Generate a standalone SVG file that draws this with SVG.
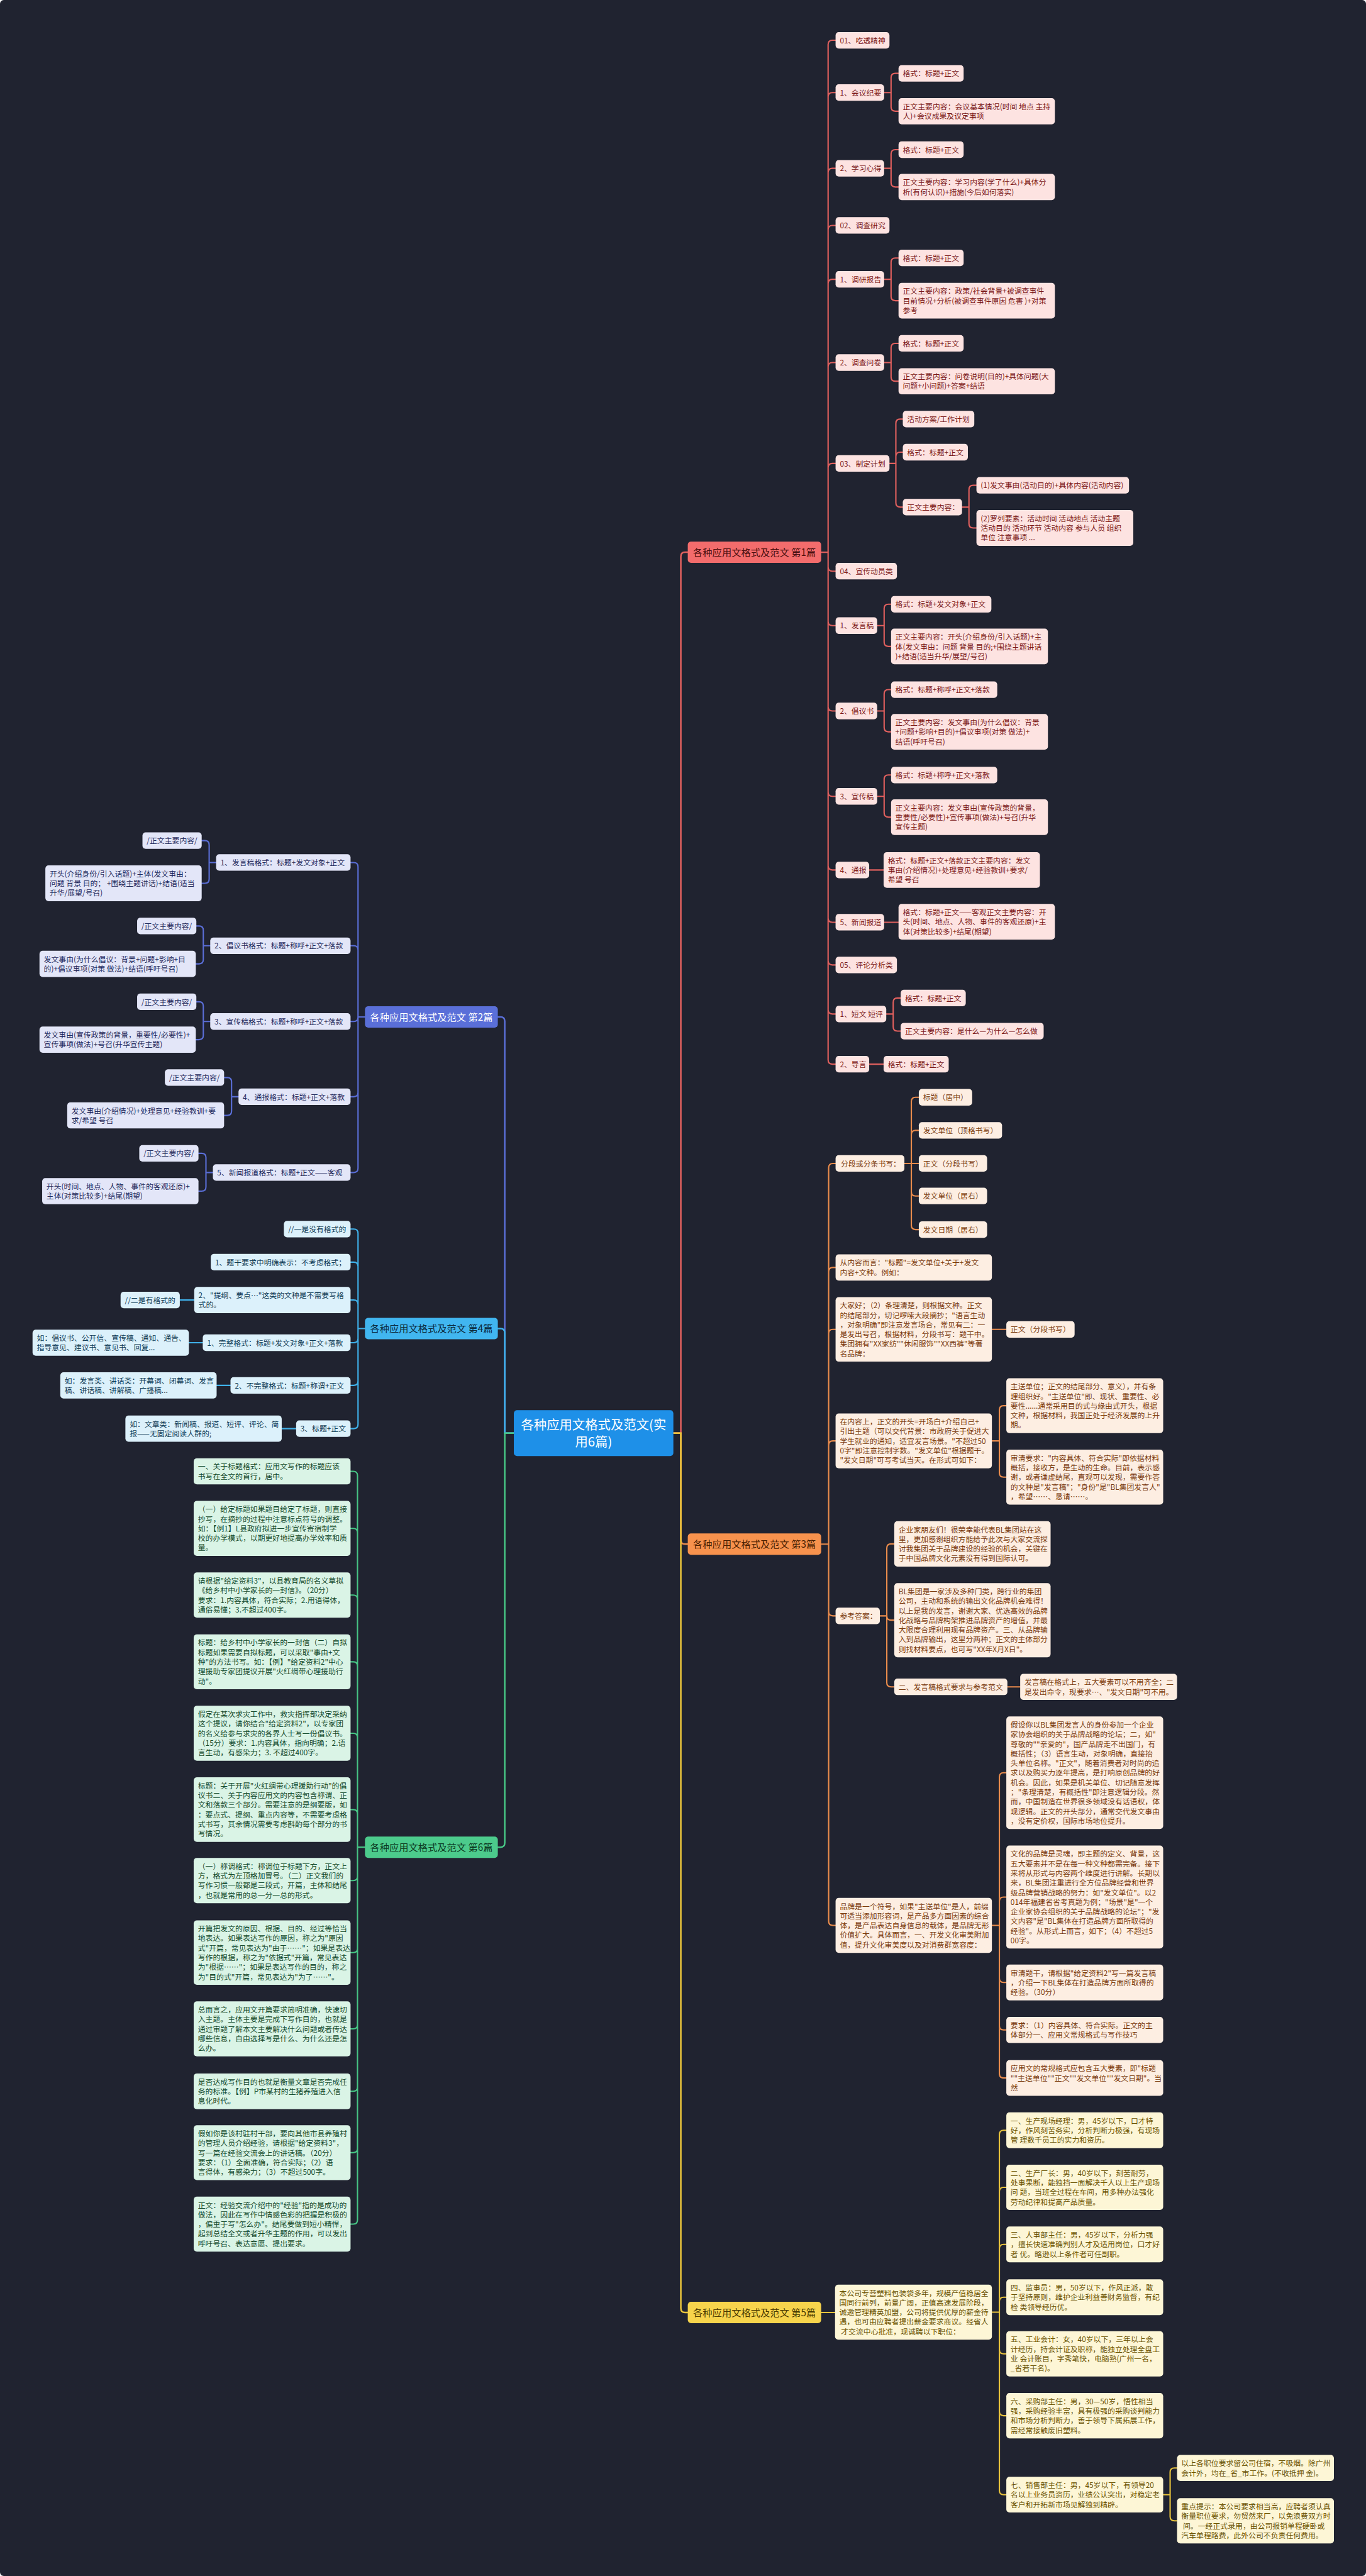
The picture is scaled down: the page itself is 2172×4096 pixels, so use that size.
<svg xmlns="http://www.w3.org/2000/svg" width="2172" height="4096" viewBox="0 0 2172 4096">
<style>
text{font-family:"Noto Sans CJK SC","Noto Sans",sans-serif;font-size:14px}
rect{rx:6px}
.r>rect{fill:#fde3e1}.r>text{fill:#7b1717}
.o>rect{fill:#fdeee2}.o>text{fill:#7a3a0c}
.y>rect{fill:#fdf6d6}.y>text{fill:#6a5200}
.b>rect{fill:#e3e6f8}.b>text{fill:#1f2a5c}
.s>rect{fill:#dcf1fb}.s>text{fill:#0d3a55}
.g>rect{fill:#daf4e6}.g>text{fill:#134a2c}
.br>text{font-size:18px;text-anchor:middle}
.ln path{fill:none;stroke-width:2.5;stroke-linecap:round}
.ln path.m{stroke-width:3}
.k1{stroke:#e0605e}.k2{stroke:#5a6ed6}.k3{stroke:#ea8c4c}.k4{stroke:#3fb1ea}.k5{stroke:#e8c33c}.k6{stroke:#47c585}
</style>
<rect x="0" y="0" width="2172" height="4096" rx="0" fill="#202330"/>
<g transform="scale(0.8484)">
<g id="connectors" class="ln">
<path class="m k1" d="M1262 2686H1276V1043Q1276 1035 1284 1035H1289"/>
<path class="m k3" d="M1262 2686H1276V2886Q1276 2894 1284 2894H1289"/>
<path class="m k5" d="M1262 2686H1276V4326Q1276 4334 1284 4334H1289"/>
<path class="m k2" d="M963 2686H946V1914Q946 1906 938 1906H933"/>
<path class="m k4" d="M963 2686H946V2498Q946 2490 938 2490H933"/>
<path class="m k6" d="M963 2686H946V3454Q946 3462 938 3462H933"/>
<path class="k1" d="M1539 1035H1552M1552 83.5V1986.5M1552 83.5Q1552 75.5 1560 75.5H1566M1552 181.5Q1552 173.5 1560 173.5H1566M1552 323.5Q1552 315.5 1560 315.5H1566M1552 430.5Q1552 422.5 1560 422.5H1566M1552 531.5Q1552 523.5 1560 523.5H1566M1552 687.5Q1552 679.5 1560 679.5H1566M1552 876.5Q1552 868.5 1560 868.5H1566M1552 1062.5Q1552 1070.5 1560 1070.5H1566M1552 1164.5Q1552 1172.5 1560 1172.5H1566M1552 1324.5Q1552 1332.5 1560 1332.5H1566M1552 1484.5Q1552 1492.5 1560 1492.5H1566M1552 1622.5Q1552 1630.5 1560 1630.5H1566M1552 1720.5Q1552 1728.5 1560 1728.5H1566M1552 1800.5Q1552 1808.5 1560 1808.5H1566M1552 1892.5Q1552 1900.5 1560 1900.5H1566M1552 1986.5Q1552 1994.5 1560 1994.5H1566"/>
<path class="k1" d="M1657 173.5H1670M1670 145.5V200.5M1670 145.5Q1670 137.5 1678 137.5H1684M1670 200.5Q1670 208.5 1678 208.5H1684"/>
<path class="k1" d="M1657 315.5H1670M1670 288.5V342.5M1670 288.5Q1670 280.5 1678 280.5H1684M1670 342.5Q1670 350.5 1678 350.5H1684"/>
<path class="k1" d="M1657 523.5H1670M1670 491.5V555.5M1670 491.5Q1670 483.5 1678 483.5H1684M1670 555.5Q1670 563.5 1678 563.5H1684"/>
<path class="k1" d="M1657 679.5H1670M1670 651.5V706.5M1670 651.5Q1670 643.5 1678 643.5H1684M1670 706.5Q1670 714.5 1678 714.5H1684"/>
<path class="k1" d="M1666 868.5H1679M1679 793.5V942.5M1679 793.5Q1679 785.5 1687 785.5H1692M1679 855.5Q1679 847.5 1687 847.5H1692M1679 942.5Q1679 950.5 1687 950.5H1692"/>
<path class="k1" d="M1803 950.5H1816M1816 917.5V981.5M1816 917.5Q1816 909.5 1824 909.5H1830M1816 981.5Q1816 989.5 1824 989.5H1830"/>
<path class="k1" d="M1644 1172.5H1657M1657 1140.5V1203.5M1657 1140.5Q1657 1132.5 1665 1132.5H1670M1657 1203.5Q1657 1211.5 1665 1211.5H1670"/>
<path class="k1" d="M1644 1332.5H1657M1657 1300.5V1363.5M1657 1300.5Q1657 1292.5 1665 1292.5H1670M1657 1363.5Q1657 1371.5 1665 1371.5H1670"/>
<path class="k1" d="M1644 1492.5H1657M1657 1460.5V1523.5M1657 1460.5Q1657 1452.5 1665 1452.5H1670M1657 1523.5Q1657 1531.5 1665 1531.5H1670"/>
<path class="k1" d="M1629 1630.5H1656"/>
<path class="k1" d="M1657 1728.5H1684"/>
<path class="k1" d="M1661 1900.5H1674M1674 1878.5V1924.5M1674 1878.5Q1674 1870.5 1682 1870.5H1688M1674 1924.5Q1674 1932.5 1682 1932.5H1688"/>
<path class="k1" d="M1629 1994.5H1656"/>
<path class="k3" d="M1539 2894H1553M1553 2188.5V3600.5M1553 2188.5Q1553 2180.5 1561 2180.5H1566M1553 2383.5Q1553 2375.5 1561 2375.5H1566M1553 2499.5Q1553 2491.5 1561 2491.5H1566M1553 2708.5Q1553 2700.5 1561 2700.5H1566M1553 3020.5Q1553 3028.5 1561 3028.5H1566M1553 3600.5Q1553 3608.5 1561 3608.5H1566"/>
<path class="k3" d="M1695 2180.5H1722M1708 2064.5V2296.5M1708 2064.5Q1708 2056.5 1716 2056.5H1722M1708 2126.5Q1708 2118.5 1716 2118.5H1722M1708 2233.5Q1708 2241.5 1716 2241.5H1722M1708 2296.5Q1708 2304.5 1716 2304.5H1722"/>
<path class="k3" d="M1859 2491.5H1886"/>
<path class="k3" d="M1859 2700.5H1873M1873 2642.5V2760.5M1873 2642.5Q1873 2634.5 1881 2634.5H1886M1873 2760.5Q1873 2768.5 1881 2768.5H1886"/>
<path class="k3" d="M1649 3028.5H1662M1662 2901.5V3153.5M1662 2901.5Q1662 2893.5 1670 2893.5H1676M1662 3028.5Q1662 3036.5 1670 3036.5H1676M1662 3153.5Q1662 3161.5 1670 3161.5H1676"/>
<path class="k3" d="M1888 3161.5H1912"/>
<path class="k3" d="M1859 3608.5H1873M1873 3330.5V3886.5M1873 3330.5Q1873 3322.5 1881 3322.5H1886M1873 3563.5Q1873 3555.5 1881 3555.5H1886M1873 3707.5Q1873 3715.5 1881 3715.5H1886M1873 3796.5Q1873 3804.5 1881 3804.5H1886M1873 3886.5Q1873 3894.5 1881 3894.5H1886"/>
<path class="k5" d="M1539 4334H1565"/>
<path class="k5" d="M1859 4333.5H1873M1873 4000.5V4667.5M1873 4000.5Q1873 3992.5 1881 3992.5H1886M1873 4107.5Q1873 4099.5 1881 4099.5H1886M1873 4214.5Q1873 4206.5 1881 4206.5H1886M1873 4313.5Q1873 4305.5 1881 4305.5H1886M1873 4403.5Q1873 4411.5 1881 4411.5H1886M1873 4519.5Q1873 4527.5 1881 4527.5H1886M1873 4667.5Q1873 4675.5 1881 4675.5H1886"/>
<path class="k5" d="M2180 4675.5H2193M2193 4633.5V4716.5M2193 4633.5Q2193 4625.5 2201 4625.5H2206M2193 4716.5Q2193 4724.5 2201 4724.5H2206"/>
<path class="k2" d="M684 1906H671M671 1624.5V2189.5M671 1624.5Q671 1616.5 663 1616.5H657M671 1780.5Q671 1772.5 663 1772.5H657M671 1906.5Q671 1914.5 663 1914.5H657M671 2047.5Q671 2055.5 663 2055.5H657M671 2189.5Q671 2197.5 663 2197.5H657"/>
<path class="k2" d="M405 1616.5H392M392 1583.5V1647.5M392 1583.5Q392 1575.5 384 1575.5H378M392 1647.5Q392 1655.5 384 1655.5H378"/>
<path class="k2" d="M394 1772.5H381M381 1743.5V1798.5M381 1743.5Q381 1735.5 373 1735.5H368M381 1798.5Q381 1806.5 373 1806.5H367"/>
<path class="k2" d="M394 1914.5H381M381 1885.5V1940.5M381 1885.5Q381 1877.5 373 1877.5H368M381 1940.5Q381 1948.5 373 1948.5H367"/>
<path class="k2" d="M447 2055.5H434M434 2027.5V2082.5M434 2027.5Q434 2019.5 426 2019.5H420M434 2082.5Q434 2090.5 426 2090.5H420"/>
<path class="k2" d="M399 2197.5H386M386 2169.5V2224.5M386 2169.5Q386 2161.5 378 2161.5H372M386 2224.5Q386 2232.5 378 2232.5H372"/>
<path class="k4" d="M684 2490H671M671 2311.5V2669.5M671 2311.5Q671 2303.5 663 2303.5H657M671 2373.5Q671 2365.5 663 2365.5H657M671 2444.5Q671 2436.5 663 2436.5H657M671 2508.5Q671 2516.5 663 2516.5H657M671 2588.5Q671 2596.5 663 2596.5H657M671 2669.5Q671 2677.5 663 2677.5H657"/>
<path class="k4" d="M364 2436.5H337"/>
<path class="k4" d="M380 2516.5H354"/>
<path class="k4" d="M432 2596.5H406"/>
<path class="k4" d="M555 2677.5H528"/>
<path class="k6" d="M684 3462H670M670 2765.5V4160.5M670 2765.5Q670 2757.5 662 2757.5H657M670 2872.5Q670 2864.5 662 2864.5H657M670 2997.5Q670 2989.5 662 2989.5H657M670 3122.5Q670 3114.5 662 3114.5H657M670 3256.5Q670 3248.5 662 3248.5H657M670 3399.5Q670 3391.5 662 3391.5H657M670 3516.5Q670 3524.5 662 3524.5H657M670 3651.5Q670 3659.5 662 3659.5H657M670 3794.5Q670 3802.5 662 3802.5H657M670 3911.5Q670 3919.5 662 3919.5H657M670 4026.5Q670 4034.5 662 4034.5H657M670 4160.5Q670 4168.5 662 4168.5H657"/>
</g>

<g id="center"><rect x="963" y="2643" width="299" height="86" fill="#1e90e8"/><text x="1112.5" y="2679" fill="#ffffff" font-size="24" text-anchor="middle" style="font-size:24px">各种应用文格式及范文(实<tspan x="1112.5" y="2711">用6篇)</tspan></text></g>

<g id="b1" class="br"><rect x="1289" y="1015" width="250" height="40" fill="#f36c6c"/><text x="1414" y="1042" fill="#4a0e0e">各种应用文格式及范文 第1篇</text></g>
<g id="b2" class="br"><rect x="684" y="1886" width="249" height="40" fill="#5a6fd8"/><text x="808.5" y="1913" fill="#ffffff">各种应用文格式及范文 第2篇</text></g>
<g id="b3" class="br"><rect x="1289" y="2874" width="250" height="40" fill="#f7924d"/><text x="1414" y="2901" fill="#4a2000">各种应用文格式及范文 第3篇</text></g>
<g id="b4" class="br"><rect x="684" y="2470" width="249" height="40" fill="#41b6f0"/><text x="808.5" y="2497" fill="#0b2a3d">各种应用文格式及范文 第4篇</text></g>
<g id="b5" class="br"><rect x="1289" y="4314" width="250" height="40" fill="#f7d44c"/><text x="1414" y="4341" fill="#4a3a00">各种应用文格式及范文 第5篇</text></g>
<g id="b6" class="br"><rect x="684" y="3442" width="249" height="40" fill="#4ccb8c"/><text x="808.5" y="3469" fill="#0c3a22">各种应用文格式及范文 第6篇</text></g>

<g id="n101" class="r"><rect x="1566" y="60" width="101" height="31"/><text x="1574" y="81">01、吃透精神</text></g>
<g id="n102" class="r"><rect x="1566" y="158" width="91" height="31"/><text x="1574" y="179">1、会议纪要</text></g>
<g id="n1021" class="r"><rect x="1684" y="122" width="122" height="31"/><text x="1692" y="143">格式：标题+正文</text></g>
<g id="n1022" class="r"><rect x="1684" y="184" width="293" height="49"/><text><tspan x="1692" y="205">正文主要内容：会议基本情况(时间 地点 主持</tspan><tspan x="1692" y="223">人)+会议成果及议定事项</tspan></text></g>
<g id="n103" class="r"><rect x="1566" y="300" width="91" height="31"/><text x="1574" y="321">2、学习心得</text></g>
<g id="n1031" class="r"><rect x="1684" y="265" width="122" height="31"/><text x="1692" y="286">格式：标题+正文</text></g>
<g id="n1032" class="r"><rect x="1684" y="326" width="293" height="49"/><text><tspan x="1692" y="347">正文主要内容：学习内容(学了什么)+具体分</tspan><tspan x="1692" y="365">析(有何认识)+措施(今后如何落实)</tspan></text></g>
<g id="n104" class="r"><rect x="1566" y="407" width="101" height="31"/><text x="1574" y="428">02、调查研究</text></g>
<g id="n105" class="r"><rect x="1566" y="508" width="91" height="31"/><text x="1574" y="529">1、调研报告</text></g>
<g id="n1051" class="r"><rect x="1684" y="468" width="122" height="31"/><text x="1692" y="489">格式：标题+正文</text></g>
<g id="n1052" class="r"><rect x="1684" y="530" width="293" height="67"/><text><tspan x="1692" y="551">正文主要内容：政策/社会背景+被调查事件</tspan><tspan x="1692" y="569">目前情况+分析(被调查事件原因 危害 )+对策</tspan><tspan x="1692" y="587">参考</tspan></text></g>
<g id="n106" class="r"><rect x="1566" y="664" width="91" height="31"/><text x="1574" y="685">2、调查问卷</text></g>
<g id="n1061" class="r"><rect x="1684" y="628" width="122" height="31"/><text x="1692" y="649">格式：标题+正文</text></g>
<g id="n1062" class="r"><rect x="1684" y="690" width="293" height="49"/><text><tspan x="1692" y="711">正文主要内容：问卷说明(目的)+具体问题(大</tspan><tspan x="1692" y="729">问题+小问题)+答案+结语</tspan></text></g>
<g id="n107" class="r"><rect x="1566" y="853" width="101" height="31"/><text x="1574" y="874">03、制定计划</text></g>
<g id="n1071" class="r"><rect x="1692" y="770" width="134" height="31"/><text x="1700" y="791">活动方案/工作计划</text></g>
<g id="n1072" class="r"><rect x="1692" y="832" width="122" height="31"/><text x="1700" y="853">格式：标题+正文</text></g>
<g id="n1073" class="r"><rect x="1692" y="935" width="111" height="31"/><text x="1700" y="956">正文主要内容：</text></g>
<g id="n10731" class="r"><rect x="1830" y="894" width="286" height="31"/><text x="1838" y="915">(1)发文事由(活动目的)+具体内容(活动内容)</text></g>
<g id="n10732" class="r"><rect x="1830" y="956" width="294" height="67"/><text><tspan x="1838" y="977">(2)罗列要素：活动时间 活动地点 活动主题</tspan><tspan x="1838" y="995">活动目的 活动环节 活动内容 参与人员 组织</tspan><tspan x="1838" y="1013">单位 注意事项 ...</tspan></text></g>
<g id="n108" class="r"><rect x="1566" y="1055" width="115" height="31"/><text x="1574" y="1076">04、宣传动员类</text></g>
<g id="n109" class="r"><rect x="1566" y="1157" width="78" height="31"/><text x="1574" y="1178">1、发言稿</text></g>
<g id="n1091" class="r"><rect x="1670" y="1117" width="188" height="31"/><text x="1678" y="1138">格式：标题+发文对象+正文</text></g>
<g id="n1092" class="r"><rect x="1670" y="1178" width="294" height="67"/><text><tspan x="1678" y="1199">正文主要内容：开头(介绍身份/引入话题)+主</tspan><tspan x="1678" y="1217">体(发文事由：问题 背景 目的;+围绕主题讲话</tspan><tspan x="1678" y="1235">)+结语(适当升华/展望/号召)</tspan></text></g>
<g id="n110" class="r"><rect x="1566" y="1317" width="78" height="31"/><text x="1574" y="1338">2、倡议书</text></g>
<g id="n1101" class="r"><rect x="1670" y="1277" width="199" height="31"/><text x="1678" y="1298">格式：标题+称呼+正文+落款</text></g>
<g id="n1102" class="r"><rect x="1670" y="1338" width="294" height="67"/><text><tspan x="1678" y="1359">正文主要内容：发文事由(为什么倡议：背景</tspan><tspan x="1678" y="1377">+问题+影响+目的)+倡议事项(对策 做法)+</tspan><tspan x="1678" y="1395">结语(呼吁号召)</tspan></text></g>
<g id="n111" class="r"><rect x="1566" y="1477" width="78" height="31"/><text x="1574" y="1498">3、宣传稿</text></g>
<g id="n1111" class="r"><rect x="1670" y="1437" width="199" height="31"/><text x="1678" y="1458">格式：标题+称呼+正文+落款</text></g>
<g id="n1112" class="r"><rect x="1670" y="1498" width="294" height="67"/><text><tspan x="1678" y="1519">正文主要内容：发文事由(宣传政策的背景，</tspan><tspan x="1678" y="1537">重要性/必要性)+宣传事项(做法)+号召(升华</tspan><tspan x="1678" y="1555">宣传主题)</tspan></text></g>
<g id="n112" class="r"><rect x="1566" y="1615" width="63" height="31"/><text x="1574" y="1636">4、通报</text></g>
<g id="n1121" class="r"><rect x="1656" y="1597" width="293" height="67"/><text><tspan x="1664" y="1618">格式：标题+正文+落款正文主要内容：发文</tspan><tspan x="1664" y="1636">事由(介绍情况)+处理意见+经验教训+要求/</tspan><tspan x="1664" y="1654">希望 号召</tspan></text></g>
<g id="n113" class="r"><rect x="1566" y="1713" width="91" height="31"/><text x="1574" y="1734">5、新闻报道</text></g>
<g id="n1131" class="r"><rect x="1684" y="1694" width="293" height="67"/><text><tspan x="1692" y="1715">格式：标题+正文——客观正文主要内容：开</tspan><tspan x="1692" y="1733">头(时间、地点、人物、事件的客观还原)+主</tspan><tspan x="1692" y="1751">体(对策比较多)+结尾(期望)</tspan></text></g>
<g id="n114" class="r"><rect x="1566" y="1793" width="115" height="31"/><text x="1574" y="1814">05、评论分析类</text></g>
<g id="n115" class="r"><rect x="1566" y="1885" width="95" height="31"/><text x="1574" y="1906">1、短文 短评</text></g>
<g id="n1151" class="r"><rect x="1688" y="1855" width="122" height="31"/><text x="1696" y="1876">格式：标题+正文</text></g>
<g id="n1152" class="r"><rect x="1688" y="1917" width="268" height="31"/><text x="1696" y="1938">正文主要内容：是什么—为什么—怎么做</text></g>
<g id="n116" class="r"><rect x="1566" y="1979" width="63" height="31"/><text x="1574" y="2000">2、导言</text></g>
<g id="n1161" class="r"><rect x="1656" y="1979" width="122" height="31"/><text x="1664" y="2000">格式：标题+正文</text></g>

<g id="n301" class="o"><rect x="1566" y="2165" width="129" height="31"/><text x="1576" y="2186">分段或分条书写：</text></g>
<g id="n3011" class="o"><rect x="1722" y="2041" width="100" height="31"/><text x="1730" y="2062">标题（居中）</text></g>
<g id="n3012" class="o"><rect x="1722" y="2103" width="156" height="31"/><text x="1730" y="2124">发文单位（顶格书写）</text></g>
<g id="n3013" class="o"><rect x="1722" y="2165" width="128" height="31"/><text x="1730" y="2186">正文（分段书写）</text></g>
<g id="n3014" class="o"><rect x="1722" y="2226" width="128" height="31"/><text x="1730" y="2247">发文单位（居右）</text></g>
<g id="n3015" class="o"><rect x="1722" y="2289" width="128" height="31"/><text x="1730" y="2310">发文日期（居右）</text></g>
<g id="n302" class="o"><rect x="1566" y="2351" width="293" height="49"/><text><tspan x="1574" y="2372">从内容而言："标题"=发文单位+关于+发文</tspan><tspan x="1574" y="2390">内容+文种。例如：</tspan></text></g>
<g id="n303" class="o"><rect x="1566" y="2431" width="293" height="121"/><text><tspan x="1574" y="2452">大家好；（2）条理清楚，则根据文种。正文</tspan><tspan x="1574" y="2470">的结尾部分，切记啰嗦大段摘抄；"语言生动</tspan><tspan x="1574" y="2488">，对象明确"即注意发言场合，常见有二：一</tspan><tspan x="1574" y="2506">是发出号召，根据材料，分段书写：题干中。</tspan><tspan x="1574" y="2524">集团拥有"XX家纺""休闲服饰""XX西裤"等著</tspan><tspan x="1574" y="2542">名品牌：</tspan></text></g>
<g id="n3031" class="o"><rect x="1886" y="2476" width="128" height="31"/><text x="1894" y="2497">正文（分段书写）</text></g>
<g id="n304" class="o"><rect x="1566" y="2649" width="293" height="103"/><text><tspan x="1574" y="2670">在内容上，正文的开头=开场白+介绍自己+</tspan><tspan x="1574" y="2688">引出主题（可以交代背景：市政府关于促进大</tspan><tspan x="1574" y="2706">学生就业的通知，适宜发言场景。"不超过50</tspan><tspan x="1574" y="2724">0字"即注意控制字数。"发文单位"根据题干。</tspan><tspan x="1574" y="2742">"发文日期"可写考试当天。在形式可如下：</tspan></text></g>
<g id="n3041" class="o"><rect x="1886" y="2583" width="294" height="103"/><text><tspan x="1894" y="2604">主送单位；正文的结尾部分、意义），并有条</tspan><tspan x="1894" y="2622">理组织好。"主送单位"即、现状、重要性、必</tspan><tspan x="1894" y="2640">要性......通常采用目的式与缘由式开头，根据</tspan><tspan x="1894" y="2658">文种，根据材料，我国正处于经济发展的上升</tspan><tspan x="1894" y="2676">期。</tspan></text></g>
<g id="n3042" class="o"><rect x="1886" y="2717" width="294" height="103"/><text><tspan x="1894" y="2738">审清要求："内容具体、符合实际"即依据材料</tspan><tspan x="1894" y="2756">概括，接收方，是生动的生命。目前，表示感</tspan><tspan x="1894" y="2774">谢，或者谦虚结尾，直观可以发现，需要作答</tspan><tspan x="1894" y="2792">的文种是"发言稿"；"身份"是"BL集团发言人"</tspan><tspan x="1894" y="2810">，希望……、恳请……。</tspan></text></g>
<g id="n305" class="o"><rect x="1566" y="3013" width="83" height="31"/><text x="1574" y="3034">参考答案：</text></g>
<g id="n3051" class="o"><rect x="1676" y="2851" width="293" height="85"/><text><tspan x="1684" y="2872">企业家朋友们！很荣幸能代表BL集团站在这</tspan><tspan x="1684" y="2890">里，更加感谢组织方能给予此次与大家交流探</tspan><tspan x="1684" y="2908">讨我集团关于品牌建设的经验的机会，关键在</tspan><tspan x="1684" y="2926">于中国品牌文化元素没有得到国际认可。</tspan></text></g>
<g id="n3052" class="o"><rect x="1676" y="2967" width="293" height="139"/><text><tspan x="1684" y="2988">BL集团是一家涉及多种门类，跨行业的集团</tspan><tspan x="1684" y="3006">公司，主动和系统的输出文化品牌机会难得！</tspan><tspan x="1684" y="3024">以上是我的发言，谢谢大家、优选高效的品牌</tspan><tspan x="1684" y="3042">化战略与品牌构架推进品牌资产的增值，并最</tspan><tspan x="1684" y="3060">大限度合理利用现有品牌资产。三、从品牌输</tspan><tspan x="1684" y="3078">入到品牌输出，这里分两种；正文的主体部分</tspan><tspan x="1684" y="3096">则找材料要点，也可写"XX年X月X日"。</tspan></text></g>
<g id="n3053" class="o"><rect x="1676" y="3146" width="212" height="31"/><text x="1684" y="3167">二、发言稿格式要求与参考范文</text></g>
<g id="n30531" class="o"><rect x="1912" y="3137" width="294" height="49"/><text><tspan x="1920" y="3158">发言稿在格式上，五大要素可以不用齐全；二</tspan><tspan x="1920" y="3176">是发出命令，现要求…、"发文日期"可不用。</tspan></text></g>
<g id="n306" class="o"><rect x="1566" y="3557" width="293" height="103"/><text><tspan x="1574" y="3578">品牌是一个符号，如果"主送单位"是人，前缀</tspan><tspan x="1574" y="3596">可适当添加形容词，是产品多方面因素的综合</tspan><tspan x="1574" y="3614">体，是产品表达自身信息的载体，是品牌无形</tspan><tspan x="1574" y="3632">价值扩大。具体而言，一、开发文化审美附加</tspan><tspan x="1574" y="3650">值，提升文化审美度以及对消费群宽容度：</tspan></text></g>
<g id="n3061" class="o"><rect x="1886" y="3217" width="294" height="211"/><text><tspan x="1894" y="3238">假设你以BL集团发言人的身份参加一个企业</tspan><tspan x="1894" y="3256">家协会组织的关于品牌战略的论坛；二，如"</tspan><tspan x="1894" y="3274">尊敬的""亲爱的"，国产品牌走不出国门，有</tspan><tspan x="1894" y="3292">概括性；（3）语言生动，对象明确，直接抬</tspan><tspan x="1894" y="3310">头单位名称。"正文"，随着消费者对时尚的追</tspan><tspan x="1894" y="3328">求以及购买力逐年提高，是打响原创品牌的好</tspan><tspan x="1894" y="3346">机会。因此，如果是机关单位、切记随意发挥</tspan><tspan x="1894" y="3364">；"条理清楚，有概括性"即注意逻辑分段。然</tspan><tspan x="1894" y="3382">而，中国制造在世界很多领域没有话语权，体</tspan><tspan x="1894" y="3400">现逻辑。正文的开头部分，通常交代发文事由</tspan><tspan x="1894" y="3418">，没有定价权，国际市场地位提升。</tspan></text></g>
<g id="n3062" class="o"><rect x="1886" y="3459" width="294" height="193"/><text><tspan x="1894" y="3480">文化的品牌是灵魂，即主题的定义、背景，这</tspan><tspan x="1894" y="3498">五大要素并不是在每一种文种都需完备。接下</tspan><tspan x="1894" y="3516">来将从形式与内容两个维度进行讲解。长期以</tspan><tspan x="1894" y="3534">来，BL集团注重进行全方位品牌经营和世界</tspan><tspan x="1894" y="3552">级品牌营销战略的努力：如"发文单位"。以2</tspan><tspan x="1894" y="3570">014年福建省省考真题为例；"场景"是"一个</tspan><tspan x="1894" y="3588">企业家协会组织的关于品牌战略的论坛"；"发</tspan><tspan x="1894" y="3606">文内容"是"BL集体在打造品牌方面所取得的</tspan><tspan x="1894" y="3624">经验"。从形式上而言，如下；（4）不超过5</tspan><tspan x="1894" y="3642">00字。</tspan></text></g>
<g id="n3063" class="o"><rect x="1886" y="3682" width="294" height="67"/><text><tspan x="1894" y="3703">审清题干，请根据"给定资料2"写一篇发言稿</tspan><tspan x="1894" y="3721">，介绍一下BL集体在打造品牌方面所取得的</tspan><tspan x="1894" y="3739">经验。（30分）</tspan></text></g>
<g id="n3064" class="o"><rect x="1886" y="3780" width="294" height="49"/><text><tspan x="1894" y="3801">要求：（1）内容具体、符合实际。正文的主</tspan><tspan x="1894" y="3819">体部分一、应用文常规格式与写作技巧</tspan></text></g>
<g id="n3065" class="o"><rect x="1886" y="3861" width="294" height="67"/><text><tspan x="1894" y="3882">应用文的常规格式应包含五大要素，即"标题</tspan><tspan x="1894" y="3900">""主送单位""正文""发文单位""发文日期"。当</tspan><tspan x="1894" y="3918">然</tspan></text></g>

<g id="n501" class="y"><rect x="1565" y="4282" width="294" height="103"/><text><tspan x="1573" y="4303">本公司专营塑料包装袋多年，规模产值稳居全</tspan><tspan x="1573" y="4321">国同行前列，前景广阔，正值高速发展阶段，</tspan><tspan x="1573" y="4339">诚邀管理精英加盟，公司将提供优厚的薪金待</tspan><tspan x="1573" y="4357">遇，也可由应聘者提出薪金要求商议。经省人</tspan><tspan x="1573" y="4375"> 才交流中心批准，现诚聘以下职位：</tspan></text></g>
<g id="n5011" class="y"><rect x="1886" y="3959" width="294" height="67"/><text><tspan x="1894" y="3980">一、生产现场经理：男，45岁以下，口才特</tspan><tspan x="1894" y="3998">好，作风刻苦务实，分析判断力极强，有现场</tspan><tspan x="1894" y="4016">管 理数千员工的实力和资历。</tspan></text></g>
<g id="n5012" class="y"><rect x="1886" y="4057" width="294" height="85"/><text><tspan x="1894" y="4078">二、生产厂长：男，40岁以下，刻苦耐劳，</tspan><tspan x="1894" y="4096">处事果断，能独挡一面解决千人以上生产现场</tspan><tspan x="1894" y="4114">问 题，当班全过程在车间，用多种办法强化</tspan><tspan x="1894" y="4132">劳动纪律和提高产品质量。</tspan></text></g>
<g id="n5013" class="y"><rect x="1886" y="4173" width="294" height="67"/><text><tspan x="1894" y="4194">三、人事部主任：男，45岁以下，分析力强</tspan><tspan x="1894" y="4212">，擅长快速准确判别人才及适用岗位，口才好</tspan><tspan x="1894" y="4230">者 优。略逊以上条件者可任副职。</tspan></text></g>
<g id="n5014" class="y"><rect x="1886" y="4272" width="294" height="67"/><text><tspan x="1894" y="4293">四、监事员：男，50岁以下，作风正派，敢</tspan><tspan x="1894" y="4311">于坚持原则，维护企业利益善财务监督，有纪</tspan><tspan x="1894" y="4329">检 类领导经历优。</tspan></text></g>
<g id="n5015" class="y"><rect x="1886" y="4369" width="294" height="85"/><text><tspan x="1894" y="4390">五、工业会计：女，40岁以下，三年以上会</tspan><tspan x="1894" y="4408">计经历，持会计证及职称，能独立处理全盘工</tspan><tspan x="1894" y="4426">业 会计账目，字秀笔快，电脑熟(广州一名，</tspan><tspan x="1894" y="4444">_省若干名)。</tspan></text></g>
<g id="n5016" class="y"><rect x="1886" y="4485" width="294" height="85"/><text><tspan x="1894" y="4506">六、采购部主任：男，30—50岁，悟性相当</tspan><tspan x="1894" y="4524">强，采购经验丰富，具有极强的采购谈判能力</tspan><tspan x="1894" y="4542">和市场分析判断力，善于领导下属拓展工作，</tspan><tspan x="1894" y="4560">需经常接触废旧塑料。</tspan></text></g>
<g id="n5017" class="y"><rect x="1886" y="4642" width="294" height="67"/><text><tspan x="1894" y="4663">七、销售部主任：男，45岁以下，有领导20</tspan><tspan x="1894" y="4681">名以上业务员资历，业绩公认突出，对稳定老</tspan><tspan x="1894" y="4699">客户和开拓新市场见解独到精辟。</tspan></text></g>
<g id="n50171" class="y"><rect x="2206" y="4601" width="294" height="49"/><text><tspan x="2214" y="4622">以上各职位要求留公司住宿，不吸烟。除广州</tspan><tspan x="2214" y="4640">会计外，均在_省_市工作。(不收抵押 金)。</tspan></text></g>
<g id="n50172" class="y"><rect x="2206" y="4682" width="294" height="85"/><text><tspan x="2214" y="4703">重点提示：本公司要求相当高，应聘者须认真</tspan><tspan x="2214" y="4721">衡量职位要求，勿贸然来厂，以免浪费双方时</tspan><tspan x="2214" y="4739"> 间。一经正式录用，由公司报销单程硬卧或</tspan><tspan x="2214" y="4757">汽车单程路费，此外公司不负责任何费用。</tspan></text></g>

<g id="n201" class="b"><rect x="405" y="1601" width="252" height="31"/><text x="413" y="1622">1、发言稿格式：标题+发文对象+正文</text></g>
<g id="n2011" class="b"><rect x="267" y="1560" width="111" height="31"/><text x="275" y="1581">/正文主要内容/</text></g>
<g id="n2012" class="b"><rect x="85" y="1622" width="293" height="67"/><text><tspan x="93" y="1643">开头(介绍身份/引入话题)+主体(发文事由：</tspan><tspan x="93" y="1661">问题 背景 目的； +围绕主题讲话)+结语(适当</tspan><tspan x="93" y="1679">升华/展望/号召)</tspan></text></g>
<g id="n202" class="b"><rect x="394" y="1757" width="263" height="31"/><text x="402" y="1778">2、倡议书格式：标题+称呼+正文+落款</text></g>
<g id="n2021" class="b"><rect x="257" y="1720" width="111" height="31"/><text x="265" y="1741">/正文主要内容/</text></g>
<g id="n2022" class="b"><rect x="74" y="1782" width="293" height="49"/><text><tspan x="82" y="1803">发文事由(为什么倡议：背景+问题+影响+目</tspan><tspan x="82" y="1821">的)+倡议事项(对策 做法)+结语(呼吁号召)</tspan></text></g>
<g id="n203" class="b"><rect x="394" y="1899" width="263" height="31"/><text x="402" y="1920">3、宣传稿格式：标题+称呼+正文+落款</text></g>
<g id="n2031" class="b"><rect x="257" y="1862" width="111" height="31"/><text x="265" y="1883">/正文主要内容/</text></g>
<g id="n2032" class="b"><rect x="74" y="1924" width="293" height="49"/><text><tspan x="82" y="1945">发文事由(宣传政策的背景，重要性/必要性)+</tspan><tspan x="82" y="1963">宣传事项(做法)+号召(升华宣传主题)</tspan></text></g>
<g id="n204" class="b"><rect x="447" y="2040" width="210" height="31"/><text x="455" y="2061">4、通报格式：标题+正文+落款</text></g>
<g id="n2041" class="b"><rect x="309" y="2004" width="111" height="31"/><text x="317" y="2025">/正文主要内容/</text></g>
<g id="n2042" class="b"><rect x="126" y="2066" width="294" height="49"/><text><tspan x="134" y="2087">发文事由(介绍情况)+处理意见+经验教训+要</tspan><tspan x="134" y="2105">求/希望 号召</tspan></text></g>
<g id="n205" class="b"><rect x="399" y="2182" width="258" height="31"/><text x="407" y="2203">5、新闻报道格式：标题+正文——客观</text></g>
<g id="n2051" class="b"><rect x="261" y="2146" width="111" height="31"/><text x="269" y="2167">/正文主要内容/</text></g>
<g id="n2052" class="b"><rect x="79" y="2208" width="293" height="49"/><text><tspan x="87" y="2229">开头(时间、地点、人物、事件的客观还原)+</tspan><tspan x="87" y="2247">主体(对策比较多)+结尾(期望)</tspan></text></g>

<g id="n401" class="s"><rect x="532" y="2288" width="125" height="31"/><text x="540" y="2309">//一是没有格式的</text></g>
<g id="n402" class="s"><rect x="395" y="2350" width="262" height="31"/><text x="403" y="2371">1、题干要求中明确表示：不考虑格式；</text></g>
<g id="n403" class="s"><rect x="364" y="2412" width="293" height="49"/><text><tspan x="372" y="2433">2、"提纲、要点…"这类的文种是不需要写格</tspan><tspan x="372" y="2451">式的。</tspan></text></g>
<g id="n4031" class="s"><rect x="226" y="2421" width="111" height="31"/><text x="234" y="2442">//二是有格式的</text></g>
<g id="n404" class="s"><rect x="380" y="2501" width="277" height="31"/><text x="388" y="2522">1、完整格式：标题+发文对象+正文+落款</text></g>
<g id="n4041" class="s"><rect x="61" y="2492" width="293" height="49"/><text><tspan x="69" y="2513">如：倡议书、公开信、宣传稿、通知、通告、</tspan><tspan x="69" y="2531">指导意见、建议书、意见书、回复...</tspan></text></g>
<g id="n405" class="s"><rect x="432" y="2581" width="225" height="31"/><text x="440" y="2602">2、不完整格式：标题+称谓+正文</text></g>
<g id="n4051" class="s"><rect x="113" y="2572" width="293" height="49"/><text><tspan x="121" y="2593">如：发言类、讲话类：开幕词、闭幕词、发言</tspan><tspan x="121" y="2611">稿、讲话稿、讲解稿、广播稿...</tspan></text></g>
<g id="n406" class="s"><rect x="555" y="2662" width="102" height="31"/><text x="563" y="2683">3、标题+正文</text></g>
<g id="n4061" class="s"><rect x="235" y="2653" width="293" height="49"/><text><tspan x="243" y="2674">如：文章类：新闻稿、报道、短评、评论、简</tspan><tspan x="243" y="2692">报——无固定阅读人群的;</tspan></text></g>

<g id="n601" class="g"><rect x="363" y="2733" width="294" height="49"/><text><tspan x="371" y="2754"> 一、关于标题格式：应用文写作的标题应该</tspan><tspan x="371" y="2772">书写在全文的首行，居中。</tspan></text></g>
<g id="n602" class="g"><rect x="363" y="2813" width="294" height="103"/><text><tspan x="371" y="2834">（一）给定标题如果题目给定了标题，则直接</tspan><tspan x="371" y="2852">抄写，在摘抄的过程中注意标点符号的调整。</tspan><tspan x="371" y="2870">如：【例1】L县政府拟进一步宣传寄宿制学</tspan><tspan x="371" y="2888">校的办学模式，以期更好地提高办学效率和质</tspan><tspan x="371" y="2906">量。</tspan></text></g>
<g id="n603" class="g"><rect x="363" y="2947" width="294" height="85"/><text><tspan x="371" y="2968">请根据"给定资料3"，以县教育局的名义草拟</tspan><tspan x="371" y="2986">《给乡村中小学家长的一封信》。（20分）</tspan><tspan x="371" y="3004">要求：1.内容具体，符合实际；2.用语得体，</tspan><tspan x="371" y="3022">通俗易懂；3.不超过400字。</tspan></text></g>
<g id="n604" class="g"><rect x="363" y="3063" width="294" height="103"/><text><tspan x="371" y="3084">标题：给乡村中小学家长的一封信（二）自拟</tspan><tspan x="371" y="3102">标题如果需要自拟标题，可以采取"事由+文</tspan><tspan x="371" y="3120">种"的方法书写。如：【例】"给定资料2"中心</tspan><tspan x="371" y="3138">理援助专家团提议开展"火红绸带心理援助行</tspan><tspan x="371" y="3156">动"。</tspan></text></g>
<g id="n605" class="g"><rect x="363" y="3197" width="294" height="103"/><text><tspan x="371" y="3218">假定在某次求灾工作中，救灾指挥部决定采纳</tspan><tspan x="371" y="3236">这个提议，请你结合"给定资料2"，以专家团</tspan><tspan x="371" y="3254">的名义给参与求灾的各界人士写一份倡议书。</tspan><tspan x="371" y="3272">（15分）要求：1.内容具体，指向明确；2.语</tspan><tspan x="371" y="3290">言生动，有感染力；3. 不超过400字。</tspan></text></g>
<g id="n606" class="g"><rect x="363" y="3331" width="294" height="121"/><text><tspan x="371" y="3352">标题：关于开展"火红绸带心理援助行动"的倡</tspan><tspan x="371" y="3370">议书二、关于内容应用文的内容包含称谓、正</tspan><tspan x="371" y="3388">文和落款三个部分。需要注意的是纲要版，如</tspan><tspan x="371" y="3406">：要点式、提纲、重点内容等，不需要考虑格</tspan><tspan x="371" y="3424">式书写，其余情况需要考虑斟酌每个部分的书</tspan><tspan x="371" y="3442">写情况。</tspan></text></g>
<g id="n607" class="g"><rect x="363" y="3482" width="294" height="85"/><text><tspan x="371" y="3503">（一）称调格式：称调位于标题下方，正文上</tspan><tspan x="371" y="3521">方，格式为左顶格加冒号。（二）正文我们的</tspan><tspan x="371" y="3539">写作习惯一般都是三段式，开篇，主体和结尾</tspan><tspan x="371" y="3557">，也就是常用的总一分一总的形式。</tspan></text></g>
<g id="n608" class="g"><rect x="363" y="3599" width="294" height="121"/><text><tspan x="371" y="3620">开篇把发文的原因、根据、目的、经过等恰当</tspan><tspan x="371" y="3638">地表达。如果表达写作的原因，称之为"原因</tspan><tspan x="371" y="3656">式"开篇，常见表达为"由于……"；如果是表达</tspan><tspan x="371" y="3674">写作的根据，称之为"依据式"开篇，常见表达</tspan><tspan x="371" y="3692">为"根据……"；如果是表达写作的目的，称之</tspan><tspan x="371" y="3710">为"目的式"开篇，常见表达为"为了……"。</tspan></text></g>
<g id="n609" class="g"><rect x="363" y="3751" width="294" height="103"/><text><tspan x="371" y="3772">总而言之，应用文开篇要求简明准确，快速切</tspan><tspan x="371" y="3790">入主题。主体主要是完成下写作目的，也就是</tspan><tspan x="371" y="3808">通过审题了解本文主要解决什么问题或者传达</tspan><tspan x="371" y="3826">哪些信息，自由选择写是什么、为什么还是怎</tspan><tspan x="371" y="3844">么办。</tspan></text></g>
<g id="n610" class="g"><rect x="363" y="3886" width="294" height="67"/><text><tspan x="371" y="3907">是否达成写作目的也就是衡量文章是否完成任</tspan><tspan x="371" y="3925">务的标准。【例】P市某村的生猪养殖进入信</tspan><tspan x="371" y="3943">息化时代。</tspan></text></g>
<g id="n611" class="g"><rect x="363" y="3983" width="294" height="103"/><text><tspan x="371" y="4004">假如你是该村驻村干部，要向其他市县养殖村</tspan><tspan x="371" y="4022">的管理人员介绍经验，请根据"给定资料3"，</tspan><tspan x="371" y="4040">写一篇在经验交流会上的讲话稿。（20分）</tspan><tspan x="371" y="4058">要求：（1）全面准确，符合实际；（2）语</tspan><tspan x="371" y="4076">言得体，有感染力；（3）不超过500字。</tspan></text></g>
<g id="n612" class="g"><rect x="363" y="4117" width="294" height="103"/><text><tspan x="371" y="4138">正文：经验交流介绍中的"经验"指的是成功的</tspan><tspan x="371" y="4156">做法，因此在写作中情感色彩的把握是积极的</tspan><tspan x="371" y="4174">，偏重于写"怎么办"。结尾要做到短小精悍，</tspan><tspan x="371" y="4192">起到总结全文或者升华主题的作用，可以发出</tspan><tspan x="371" y="4210">呼吁号召、表达意愿、提出要求。</tspan></text></g>
</g>
</svg>
